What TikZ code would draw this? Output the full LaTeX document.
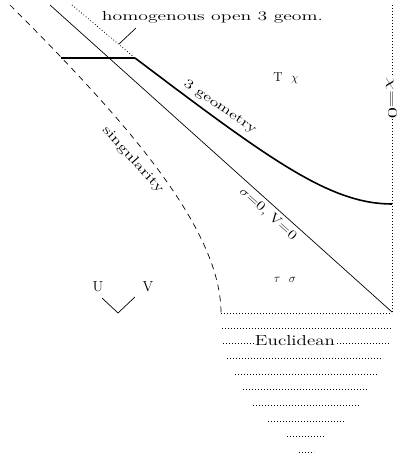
\documentclass[tikz,border=0pt]{standalone}
\usepackage{graphicx}
\begin{document}
\begin{tikzpicture}[x=1pt,y=-1pt,
  thinline/.style={line width=0.7pt},
  thickline/.style={line width=1.6pt},
  dotline/.style={line width=0.8pt, dash pattern=on 0.8pt off 2.2pt},
  dashline/.style={line width=0.7pt, dash pattern=on 6pt off 5pt},
  lbl/.style={inner sep=0pt, font=\fontsize{13}{15}\selectfont},
  biglbl/.style={inner sep=0pt, font=\fontsize{14.5}{16}\selectfont},
]
\useasboundingbox (0,0) rectangle (398,453);
% key points
\coordinate (s0) at (10,5);
\coordinate (s1) at (221,313);
\coordinate (n0) at (50,5);
\coordinate (n1) at (392,312);
\coordinate (h0) at (72,5);
\coordinate (hc) at (135,58);
\coordinate (hl) at (61,58);
\coordinate (ge) at (392,204);
\coordinate (r0) at (392,5);
\coordinate (r1) at (392,313);
\coordinate (p0) at (136,28);
\coordinate (p1) at (119,44);
% singularity
\draw[dashline] (s0) .. controls (130,125) and (221,230) .. (s1);
% sigma=0 line
\draw[thinline] (n0) -- (n1);
% homogeneous open 3 geometry
\draw[dotline] (h0) -- (hc);
\draw[thickline] (hl) -- (hc);
\draw[thickline] (hc) .. controls (270,160) and (330,204) .. (ge);
% chi = 0
\draw[dotline] (r0) -- (r1);
% pointer
\draw[thinline] (p0) -- (p1);
% Euclidean rows
\draw[dotline] (s1) -- (r1);
\foreach \yy/\xa/\xb in {328/222/392, 343/223/390, 358/227/383, 374/235/377,
  389/243/368, 405/253/359, 421/268/345, 436/287/325, 452/299/314}
  \draw[dotline] (\xa,\yy) -- (\xb,\yy);
% U V axes
\coordinate (uv0) at (102,298);
\coordinate (uvm) at (118,313);
\coordinate (uv1) at (135,297);
\draw[thinline] (uv0) -- (uvm) -- (uv1);
% labels
\node[lbl, anchor=base] (thog) at (212.5,20.7) {\resizebox{221pt}{\height}{homogenous open 3 geom.}};
\node[lbl, rotate=-34] (tgeo) at (220,107) {\resizebox{85pt}{\height}{3 geometry}};
\node[lbl, rotate=-48] (tsing) at (133,160) {\resizebox{85pt}{\height}{singularity}};
\node[lbl, rotate=-42] (tsig) at (268,214) {\resizebox{72pt}{\height}{$\sigma$=0, V=0}};
\node[lbl] (tchi) at (286,78) {T\ \ $\chi$};
\node[lbl] (ttau) at (285,280) {$\tau$\ \ $\sigma$};
\node[lbl, rotate=-90, fill=white, inner sep=0.3pt] (tchi0) at (391.5,98) {\resizebox{42pt}{\height}{$\chi$=0}};
\node[biglbl] (tU) at (98,287) {U};
\node[biglbl] (tV) at (148,287) {V};
\node[biglbl, anchor=base, fill=white, inner sep=1pt] (teuc) at (295,345.5) {\resizebox{80pt}{\height}{Euclidean}};
\end{tikzpicture}
\end{document}
